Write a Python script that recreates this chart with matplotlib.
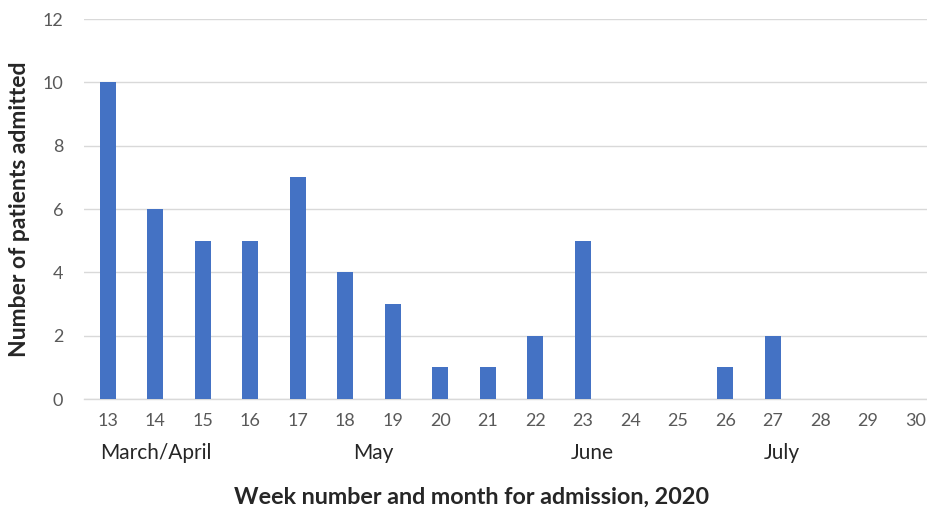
import matplotlib

matplotlib.use("Agg")
import matplotlib.pyplot as plt
import matplotlib.transforms as mtransforms

weeks = list(range(13, 31))
admitted = [10, 6, 5, 5, 7, 4, 3, 1, 1, 2, 5, 0, 0, 1, 2, 0, 0, 0]
months = ["March/April", "May", "June", "July"]
month_pos = [12.84, 18.6, 23.2, 27.2]
month_align = ["left", "center", "center", "center"]

plt.rcParams["font.family"] = ["Lato", "DejaVu Sans"]

fig = plt.figure(figsize=(9.28, 5.11), dpi=100)
ax = fig.add_axes([84 / 928, 112 / 511, 844 / 928, 380 / 511])

ax.bar(weeks, admitted, width=0.33, color="#4472C4", zorder=3)

ax.set_xlim(12.5, 30.27)
ax.set_ylim(0, 12)
ax.set_yticks(range(0, 13, 2))
ax.set_xticks(weeks)
ax.grid(True, axis="y", color="#D9D9D9", lw=1.0, zorder=0)
for side in ("top", "right", "left"):
    ax.spines[side].set_visible(False)
ax.spines["bottom"].set_color("#D9D9D9")
ax.spines["bottom"].set_linewidth(1.0)
ax.tick_params(axis="both", length=0, labelsize=13, labelcolor="#595959")
ax.tick_params(axis="y", pad=15)
ax.tick_params(axis="x", pad=10)

# month names under the week numbers
trans = mtransforms.blended_transform_factory(ax.transData, ax.transAxes)
for name, x, ha in zip(months, month_pos, month_align):
    ax.text(x, -0.143, name, transform=trans, ha=ha, va="center",
            fontsize=15, color="#262626")

fig.text(20 / 928, 1 - 209 / 511, "Number of patients admitted", rotation=90,
         ha="center", va="center", fontsize=16.5, fontweight="bold", color="#262626")
fig.text(472 / 928, 1 - 497 / 511, "Week number and month for admission, 2020",
         ha="center", va="center", fontsize=16.8, fontweight="bold", color="#262626")

fig.savefig("out.png", dpi=100)
